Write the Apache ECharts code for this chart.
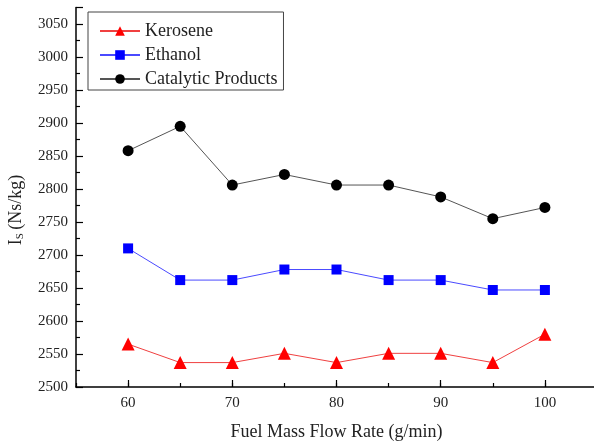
<!DOCTYPE html>
<html><head><meta charset="utf-8">
<script src="https://cdn.jsdelivr.net/npm/echarts@6/dist/echarts.min.js"></script>
<style>html,body{margin:0;padding:0;background:#fff}#c{width:594px;height:444px}</style>
</head><body><div id="c"></div>
<script>
const axisPositions = ['55', '60', '65', '70', '75', '80', '85', '90', '95', '100', '105'];
const tickLabels = ['60', '70', '80', '90', '100'];
const flowRates = ['60', '65', '70', '75', '80', '85', '90', '95', '100'];
const kerosene = [2565, 2537, 2537, 2551, 2537, 2551, 2551, 2537, 2580];
const ethanol = [2710, 2662, 2662, 2678, 2678, 2662, 2662, 2647, 2647];
const catalytic = [2858, 2895, 2806, 2822, 2806, 2806, 2788, 2755, 2772];
const seriesNames = ['Kerosene', 'Ethanol', 'Catalytic Products'];
const xTitle = 'Fuel Mass Flow Rate (g/min)';

const pair = arr => arr.map((v, i) => [flowRates[i], v]);
const isMajor = (idx, val) => tickLabels.indexOf(String(val)) >= 0;
const font = 'Liberation Serif';
const chart = echarts.init(document.getElementById('c'), null, {renderer: 'canvas'});
chart.setOption({
  animation: false,
  backgroundColor: '#fff',
  textStyle: {fontFamily: font},
  grid: {left: 76, right: -3, top: 7.5, bottom: 57, containLabel: false, outerBoundsMode: 'none'},
  legend: {
    left: 88, top: 12, orient: 'vertical',
    borderColor: '#444', borderWidth: 1,
    padding: [10, 6, 2, 11],
    itemWidth: 40, itemHeight: 12, itemGap: 6,
    textStyle: {fontFamily: font, fontSize: 18, color: '#222', lineHeight: 17},
    data: seriesNames
  },
  xAxis: [{
    type: 'category', data: axisPositions, boundaryGap: false,
    axisLine: {show: true, lineStyle: {color: '#000', width: 1.5}},
    axisTick: {show: true, inside: true, length: 7, interval: isMajor, lineStyle: {color: '#000', width: 1.2}},
    splitLine: {show: false},
    axisLabel: {fontFamily: font, fontSize: 15, color: '#222', margin: 9, interval: isMajor},
    name: xTitle, nameLocation: 'middle', nameGap: 36,
    nameTextStyle: {fontFamily: font, fontSize: 18, color: '#222'}
  }, {
    type: 'category', data: axisPositions, boundaryGap: false, position: 'bottom', offset: 0,
    axisLine: {show: false},
    axisTick: {show: true, inside: true, length: 4, interval: 0, lineStyle: {color: '#000', width: 1.2}},
    axisLabel: {show: false},
    splitLine: {show: false}
  }],
  yAxis: {
    type: 'value', min: 2500, max: 3075, interval: 50,
    axisLine: {show: true, lineStyle: {color: '#000', width: 1.5}},
    axisTick: {show: true, inside: true, length: 7, lineStyle: {color: '#000', width: 1.2}},
    minorTick: {show: true, splitNumber: 2, length: 4, lineStyle: {color: '#000', width: 1.2}},
    splitLine: {show: false},
    axisLabel: {fontFamily: font, fontSize: 15, color: '#222', margin: 8, showMaxLabel: false,
                formatter: v => String(v)}
  },
  graphic: [{
    type: 'text', x: 16, y: 210, rotation: Math.PI / 2,
    style: {
      text: '{i|I}{s|S} {i|(Ns/kg)}',
      rich: {
        i: {fontFamily: font, fontSize: 18, fill: '#222'},
        s: {fontFamily: font, fontSize: 11, fill: '#222', padding: [9, 0, 0, 0]}
      },
      align: 'center', verticalAlign: 'middle'
    }
  }],
  series: [
    {name: seriesNames[0], type: 'line', data: pair(kerosene), symbol: 'triangle', symbolSize: 13,
     itemStyle: {color: '#ff0000'}, lineStyle: {color: '#f04040', width: 1}},
    {name: seriesNames[1], type: 'line', data: pair(ethanol), symbol: 'rect', symbolSize: 10,
     itemStyle: {color: '#0000ff'}, lineStyle: {color: '#4a4aff', width: 1}},
    {name: seriesNames[2], type: 'line', data: pair(catalytic), symbol: 'circle', symbolSize: 11,
     itemStyle: {color: '#000'}, lineStyle: {color: '#555', width: 1}}
  ]
});
</script></body></html>
